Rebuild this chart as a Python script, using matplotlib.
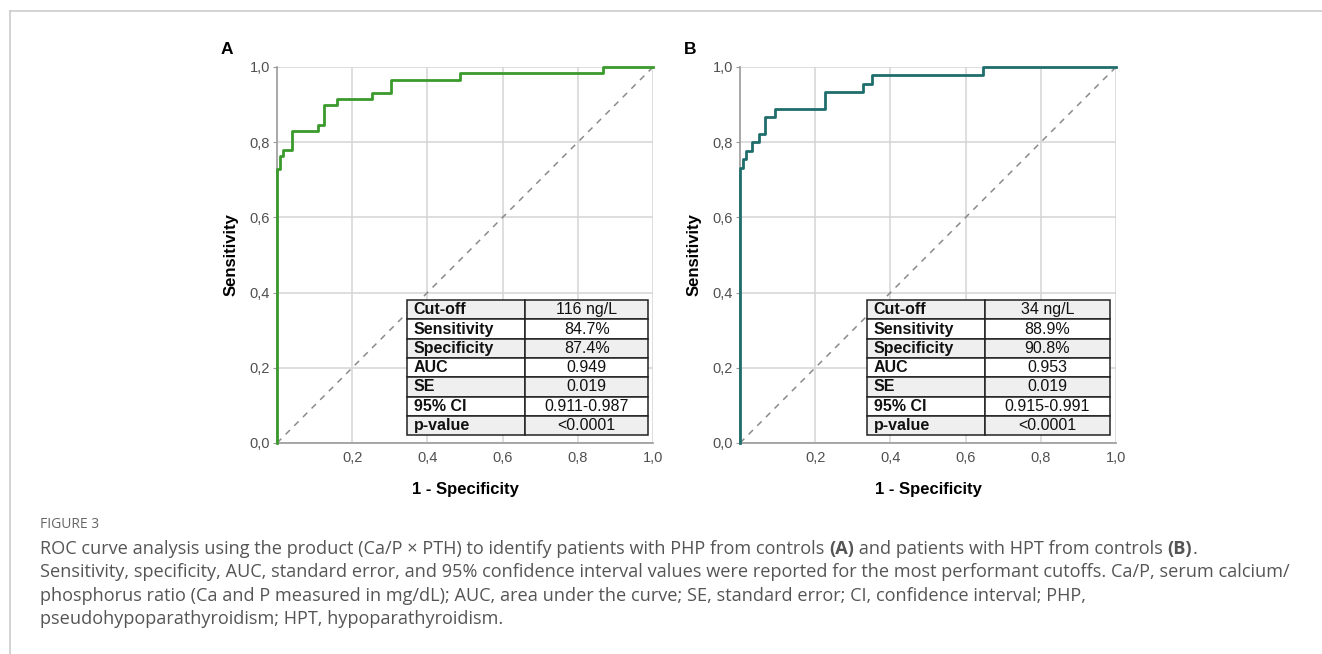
import matplotlib
matplotlib.use("Agg")
from matplotlib import pyplot as plt
from matplotlib.lines import Line2D

plt.rcParams['font.family'] = ['Liberation Sans', 'DejaVu Sans']

# ROC curve points
fpr_a = [0, 0, 0.009, 0.016, 0.040, 0.109, 0.125, 0.160, 0.252, 0.302, 0.487, 0.867, 1.0]
tpr_a = [0, 0.729, 0.762, 0.780, 0.830, 0.847, 0.898, 0.915, 0.932, 0.966, 0.983, 1.0, 1.0]

fpr_b = [0, 0, 0.007, 0.016, 0.033, 0.050, 0.067, 0.092, 0.225, 0.328, 0.351, 0.647, 1.0]
tpr_b = [0, 0.731, 0.754, 0.777, 0.800, 0.822, 0.866, 0.889, 0.933, 0.955, 0.978, 1.0, 1.0]

filas = ["Cut-off", "Sensitivity", "Specificity", "AUC", "SE", "95% CI", "p-value"]
valores_a = ["116 ng/L", "84.7%", "87.4%", "0.949", "0.019", "0.911-0.987", "<0.0001"]
valores_b = ["34 ng/L", "88.9%", "90.8%", "0.953", "0.019", "0.915-0.991", "<0.0001"]

xticks = [0.2, 0.4, 0.6, 0.8, 1.0]
yticks = [0.0, 0.2, 0.4, 0.6, 0.8, 1.0]

W, H = 1322, 654
fig = plt.figure(figsize=(W / 100, H / 100), dpi=100)

# card borders (top and left)
fig.add_artist(Line2D([10 / W, 1], [1 - 11 / H, 1 - 11 / H], color="#cccccc", lw=1.2))
fig.add_artist(Line2D([10 / W, 10 / W], [0, 1 - 11 / H], color="#cccccc", lw=1.2))


def panel(left, fpr, tpr, color, valores, letra, tx0, tx1, split):
    ax = fig.add_axes([left / W, (H - 443) / H, 376 / W, 376 / H])
    ax.set_xlim(0, 1)
    ax.set_ylim(0, 1)
    ax.grid(True, color="#d4d4d4", lw=1.1)
    ax.set_axisbelow(True)
    for s in ["top", "right"]:
        ax.spines[s].set_visible(False)
    for s in ["left", "bottom"]:
        ax.spines[s].set_color("#9a9a9a")
        ax.spines[s].set_linewidth(1.2)
    ax.plot([0, 1], [0, 1], ls=(0, (4, 4)), color="#8a8a8a", lw=1.1, zorder=2)
    ax.step(fpr, tpr, where="post", color=color, lw=2, zorder=3, clip_on=False)
    ax.set_xticks(xticks)
    ax.set_yticks(yticks)
    ax.set_xticklabels([f"{v:.1f}".replace(".", ",") for v in xticks])
    ax.set_yticklabels([f"{v:.1f}".replace(".", ",") for v in yticks])
    ax.tick_params(axis="x", length=0, pad=6, labelsize=10.5, labelcolor="#505050")
    ax.tick_params(axis="y", length=3, color="#9a9a9a", pad=2, labelsize=10.5, labelcolor="#505050")
    ax.set_xlabel("1 - Specificity", fontsize=12, fontweight="bold", labelpad=12)
    ax.set_ylabel("Sensitivity", fontsize=12, fontweight="bold", labelpad=8)
    ax.text(-0.15, 1.035, letra, transform=ax.transAxes, fontsize=12.5, fontweight="bold")

    tabla = ax.table(cellText=[[f, v] for f, v in zip(filas, valores)],
                     bbox=[tx0, 0.021, tx1 - tx0, 0.359], colWidths=[split, 1 - split])
    tabla.auto_set_font_size(False)
    for (r, c), cell in tabla.get_celld().items():
        cell.set_edgecolor("#222222")
        cell.set_linewidth(1.1)
        cell.set_facecolor("#efefef" if r % 2 == 0 else "white")
        cell.set_text_props(fontsize=11.5, color="#111111",
                            fontweight="bold" if c == 0 else "normal",
                            ha="left" if c == 0 else "center")
        if c == 0:
            cell.PAD = 0.055
    tabla.set_zorder(5)
    return ax


panel(277, fpr_a, tpr_a, "#3a9a2c", valores_a, "A", 0.346, 0.987, 0.49)
panel(740, fpr_b, tpr_b, "#1f6e6c", valores_b, "B", 0.338, 0.984, 0.486)

# caption
fig.text(40 / W, 1 - 525 / H, "FIGURE 3", fontsize=10, color="#666666",
         family=["Open Sans", "DejaVu Sans"], va="center")

lineas = [
    [("ROC curve analysis using the product (Ca/P \u00d7 PTH) to identify patients with PHP from controls ", "normal"),
     ("(A)", "bold"), (" and patients with HPT from controls ", "normal"), ("(B)", "bold"), (".", "normal")],
    [("Sensitivity, specificity, AUC, standard error, and 95% confidence interval values were reported for the most performant cutoffs. Ca/P, serum calcium/", "normal")],
    [("phosphorus ratio (Ca and P measured in mg/dL); AUC, area under the curve; SE, standard error; CI, confidence interval; PHP,", "normal")],
    [("pseudohypoparathyroidism; HPT, hypoparathyroidism.", "normal")],
]
ys = [549, 572, 596, 619]

renderer = fig.canvas.get_renderer()
for partes, y in zip(lineas, ys):
    x = 40
    for texto, peso in partes:
        t = fig.text(x / W, 1 - y / H, texto, fontsize=13.1, color="#555555",
                     fontweight=peso, family=["Open Sans", "DejaVu Sans"], va="center")
        bb = t.get_window_extent(renderer=renderer)
        x += bb.width

fig.savefig("out.png", dpi=100)
